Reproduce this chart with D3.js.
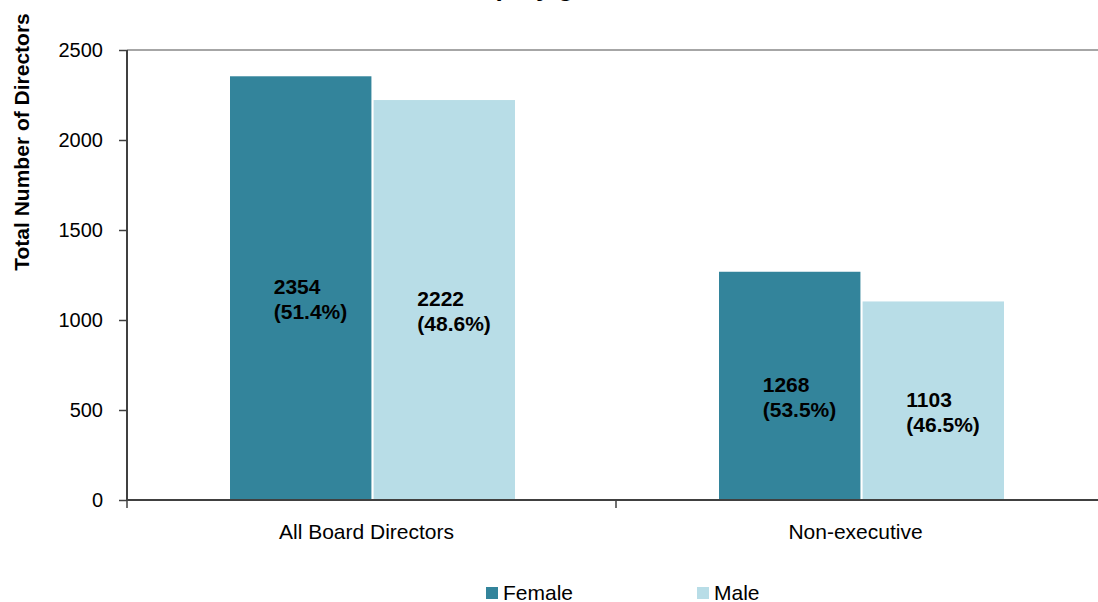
<!DOCTYPE html>
<html>
<head>
<meta charset="utf-8">
<script src="https://cdn.jsdelivr.net/npm/d3@7"></script>
<style>
  html, body { margin: 0; padding: 0; background: #ffffff; }
  svg { display: block; font-family: "Liberation Sans", Arial, sans-serif; }
</style>
</head>
<body>
<svg id="chart" width="1098" height="602"></svg>
<script>
// ---- data ----
const categories = ["All Board Directors", "Non-executive"];
const seriesNames = ["Female", "Male"];
const femaleValues = [2354, 1268];
const maleValues = [2222, 1103];
const femalePercents = ["51.4%", "53.5%"];
const malePercents = ["48.6%", "46.5%"];
const yTicks = [0, 500, 1000, 1500, 2000, 2500];
const titleLines = ["Number of Board Directors (all and", "non-executive), by gender"];
const yAxisTitle = "Total Number of Directors";

// ---- build table ----
const rows = categories.map((c, i) => ({
  category: c,
  bars: [
    { series: "Female", value: femaleValues[i], pct: femalePercents[i] },
    { series: "Male", value: maleValues[i], pct: malePercents[i] }
  ]
}));

const colors = { Female: "#33849b", Male: "#b8dde7" };

const svg = d3.select("#chart");
const plot = { left: 127, right: 1105, top: 50, bottom: 500 };

const y = d3.scaleLinear().domain([0, 2500]).range([plot.bottom, plot.top]);
const x0 = d3.scaleBand().domain(categories).range([plot.left, plot.right]).padding(0);
const x1 = d3.scaleBand().domain(seriesNames).range([103, 388]).paddingInner(0.015);

// title (clipped at top in the reference: only the descenders of the last line show)
const title = svg.append("text")
  .attr("font-size", 26)
  .attr("font-weight", "bold")
  .attr("fill", "#000");
const l1 = title.append("tspan").attr("y", -35).text(titleLines[0]);
const l2 = title.append("tspan").attr("y", -4).text(titleLines[1]);
try {
  const w1 = l1.node().getComputedTextLength();
  const idx = titleLines[1].indexOf(")");
  const off = l2.node().getSubStringLength(0, idx);
  const x2 = 497 - off;
  const w2 = l2.node().getComputedTextLength();
  const cx = x2 + w2 / 2;
  l1.attr("x", cx - w1 / 2);
  l2.attr("x", x2);
} catch (e) { l1.attr("x", 300); l2.attr("x", 300); }

// top border line
svg.append("line")
  .attr("x1", plot.left).attr("x2", 1098)
  .attr("y1", y(2500)).attr("y2", y(2500))
  .attr("stroke", "#a6a6a6").attr("stroke-width", 2);

// bars
const groups = svg.selectAll("g.grp").data(rows).join("g")
  .attr("class", "grp")
  .attr("transform", d => `translate(${x0(d.category)},0)`);

groups.selectAll("rect").data(d => d.bars).join("rect")
  .attr("x", d => x1(d.series))
  .attr("width", x1.bandwidth())
  .attr("y", d => y(d.value))
  .attr("height", d => y(0) - y(d.value))
  .attr("fill", d => colors[d.series]);

// value labels
groups.each(function(d) {
  const g = d3.select(this);
  d.bars.forEach(b => {
    const cx = x1(b.series) + x1.bandwidth() / 2;
    const my = (y(b.value) + y(0)) / 2;
    const t = g.append("text")
      .attr("font-size", 21)
      .attr("font-weight", "bold")
      .attr("fill", "#000")
      .attr("y", my + 6);
    t.append("tspan").attr("x", cx - 27).text(b.value);
    t.append("tspan").attr("x", cx - 27).attr("dy", 25).text(`(${b.pct})`);
  });
});

// y axis
const yAxis = d3.axisLeft(y).tickValues(yTicks).tickSize(8).tickPadding(16).tickFormat(d3.format("d"));
const ya = svg.append("g").attr("transform", `translate(${plot.left},0)`).call(yAxis);
ya.select(".domain").attr("stroke", "#404040").attr("stroke-width", 2).attr("d", `M0,${plot.top}V${plot.bottom}`);
ya.selectAll(".tick line").attr("stroke", "#404040").attr("stroke-width", 1.5);
ya.selectAll(".tick text").attr("font-size", 20).attr("fill", "#000").attr("font-family", "Liberation Sans, Arial, sans-serif");

// x axis
const xa = svg.append("g").attr("transform", `translate(0,${plot.bottom})`);
xa.append("line")
  .attr("x1", plot.left).attr("x2", 1098)
  .attr("stroke", "#404040").attr("stroke-width", 2);
const boundaries = categories.map(c => x0(c)).concat([x0(categories[categories.length - 1]) + x0.bandwidth()]);
xa.selectAll("line.tk").data(boundaries).join("line")
  .attr("class", "tk")
  .attr("x1", d => d).attr("x2", d => d)
  .attr("y1", 0).attr("y2", 8)
  .attr("stroke", "#404040").attr("stroke-width", 1.5);
xa.selectAll("text.cat").data(categories).join("text")
  .attr("class", "cat")
  .attr("x", d => x0(d) + x0.bandwidth() / 2 - 5)
  .attr("y", 39)
  .attr("text-anchor", "middle")
  .attr("font-size", 21)
  .attr("fill", "#000")
  .text(d => d);

// y axis title
svg.append("text")
  .attr("transform", `translate(29,142) rotate(-90)`)
  .attr("text-anchor", "middle")
  .attr("font-size", 21)
  .attr("font-weight", "bold")
  .attr("fill", "#000")
  .text(yAxisTitle);

// legend
const legendX = d3.scalePoint().domain(seriesNames).range([486, 697]);
const lg = svg.selectAll("g.leg").data(seriesNames).join("g")
  .attr("class", "leg")
  .attr("transform", d => `translate(${legendX(d)},587)`);
lg.append("rect").attr("width", 12).attr("height", 12).attr("fill", d => colors[d]);
lg.append("text").attr("x", 17).attr("y", 12.5).attr("font-size", 21).attr("fill", "#000").text(d => d);
</script>
</body>
</html>
